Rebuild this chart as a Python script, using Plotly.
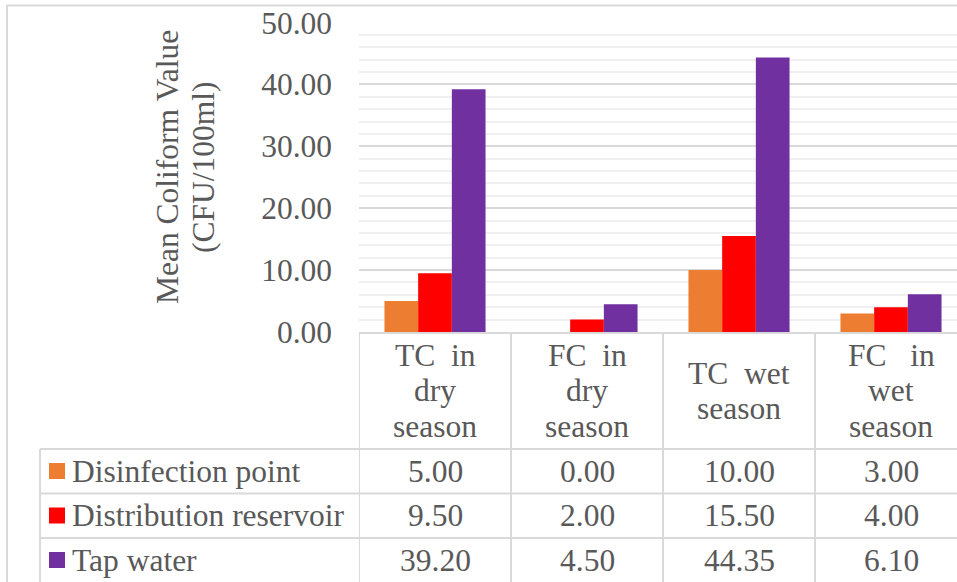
import plotly.graph_objects as go

W, H = 957, 582

# ---- data ----
category_lines = [
    ["TC\u00a0\u00a0in", "dry", "season"],
    ["FC\u00a0\u00a0in", "dry", "season"],
    ["TC\u00a0\u00a0wet", "season"],
    ["FC\u00a0\u00a0\u00a0in", "wet", "season"],
]
categories = ["TC in dry season", "FC in dry season", "TC wet season", "FC in wet season"]
series_names = ["Disinfection point", "Distribution reservoir", "Tap water"]
disinfection_point = [5.00, 0.00, 10.00, 3.00]
distribution_reservoir = [9.50, 2.00, 15.50, 4.00]
tap_water = [39.20, 4.50, 44.35, 6.10]
series_values = [disinfection_point, distribution_reservoir, tap_water]
series_colors = ["#ED7D31", "#FF0000", "#7030A0"]
y_title_lines = ["Mean Coliform Value", "(CFU/100ml)"]

FONT = "Liberation Serif, Times New Roman, serif"
TXT = "#595959"
LINE = "#d9d9d9"
FS = 31.5


def X(px):
    return px / W


def Y(py):
    return 1 - py / H


fig = go.Figure()
for name, vals, col in zip(series_names, series_values, series_colors):
    fig.add_trace(go.Bar(x=categories, y=vals, name=name,
                         marker=dict(color=col, line=dict(width=0)),
                         showlegend=False))

shapes = []
annotations = []

# outer chart border (top and left)
shapes.append(dict(type="line", xref="paper", yref="paper", x0=X(6), x1=X(957), y0=Y(5.5), y1=Y(5.5),
                   line=dict(color=LINE, width=2)))
shapes.append(dict(type="line", xref="paper", yref="paper", x0=X(7), x1=X(7), y0=Y(5), y1=Y(582),
                   line=dict(color=LINE, width=2)))

# table horizontal lines
shapes.append(dict(type="line", xref="paper", yref="paper", x0=X(359), x1=1, y0=Y(333), y1=Y(333),
                   line=dict(color=LINE, width=2)))
for py in [449, 493.5, 538]:
    shapes.append(dict(type="line", xref="paper", yref="paper", x0=X(40), x1=1, y0=Y(py), y1=Y(py),
                       line=dict(color=LINE, width=2)))
# table vertical lines
shapes.append(dict(type="line", xref="paper", yref="paper", x0=X(40), x1=X(40), y0=Y(449), y1=0,
                   line=dict(color=LINE, width=2)))
for i in range(len(categories)):
    shapes.append(dict(type="line", xref="x", yref="paper", x0=i - 0.5, x1=i - 0.5, y0=Y(333), y1=0,
                       line=dict(color=LINE, width=2)))

# header labels
for i, lines in enumerate(category_lines):
    n = len(lines)
    centre = 391
    step = 36
    for j, t in enumerate(lines):
        py = centre + (j - (n - 1) / 2) * step
        annotations.append(dict(x=categories[i], xref="x", y=Y(py), yref="paper", text=t,
                                showarrow=False, xanchor="center", yanchor="middle",
                                font=dict(family=FONT, size=FS, color=TXT)))

# data rows
row_centres = [471, 515.5, 560]
for r, (name, vals, col) in enumerate(zip(series_names, series_values, series_colors)):
    pc = row_centres[r]
    shapes.append(dict(type="rect", xref="paper", yref="paper", x0=X(49), x1=X(65),
                       y0=Y(pc - 8), y1=Y(pc + 8), fillcolor=col, line=dict(width=0)))
    annotations.append(dict(x=X(70), xref="paper", y=Y(pc), yref="paper", text=name,
                            showarrow=False, xanchor="left", yanchor="middle",
                            font=dict(family=FONT, size=FS, color=TXT)))
    for i, v in enumerate(vals):
        annotations.append(dict(x=categories[i], xref="x", y=Y(pc), yref="paper", text=f"{v:.2f}",
                                showarrow=False, xanchor="center", yanchor="middle",
                                font=dict(family=FONT, size=FS, color=TXT)))

# y-axis title (two lines)
for px, t in zip([167, 203], y_title_lines):
    annotations.append(dict(x=X(px), xref="paper", y=Y(167), yref="paper", text=t, textangle=-90,
                            showarrow=False, xanchor="center", yanchor="middle",
                            font=dict(family=FONT, size=FS, color=TXT)))

fig.update_layout(
    width=W, height=H,
    margin=dict(l=0, r=0, t=0, b=0, pad=0, autoexpand=False),
    paper_bgcolor="white", plot_bgcolor="white",
    barmode="group", bargap=0.335, bargroupgap=0,
    shapes=shapes, annotations=annotations,
    xaxis=dict(domain=[X(359), 1], range=[-0.5, -0.5 + 598 / 152], showticklabels=False,
               showgrid=False, zeroline=False, showline=False, ticks="", automargin=False),
    yaxis=dict(domain=[Y(332), Y(22.5)], range=[0, 50], dtick=10, tickformat=".2f",
               tickfont=dict(family=FONT, size=FS, color=TXT), ticklabelstandoff=26,
               showgrid=True, gridcolor=LINE, gridwidth=1.5, zeroline=False, showline=False,
               ticks="", automargin=False,
               minor=dict(dtick=2, showgrid=True, gridcolor="#f0f0f0", gridwidth=1.5)),
)

fig.write_html("out.html", config={"displayModeBar": False},
               post_script="document.body.style.margin='0';document.body.style.overflow='hidden';")
